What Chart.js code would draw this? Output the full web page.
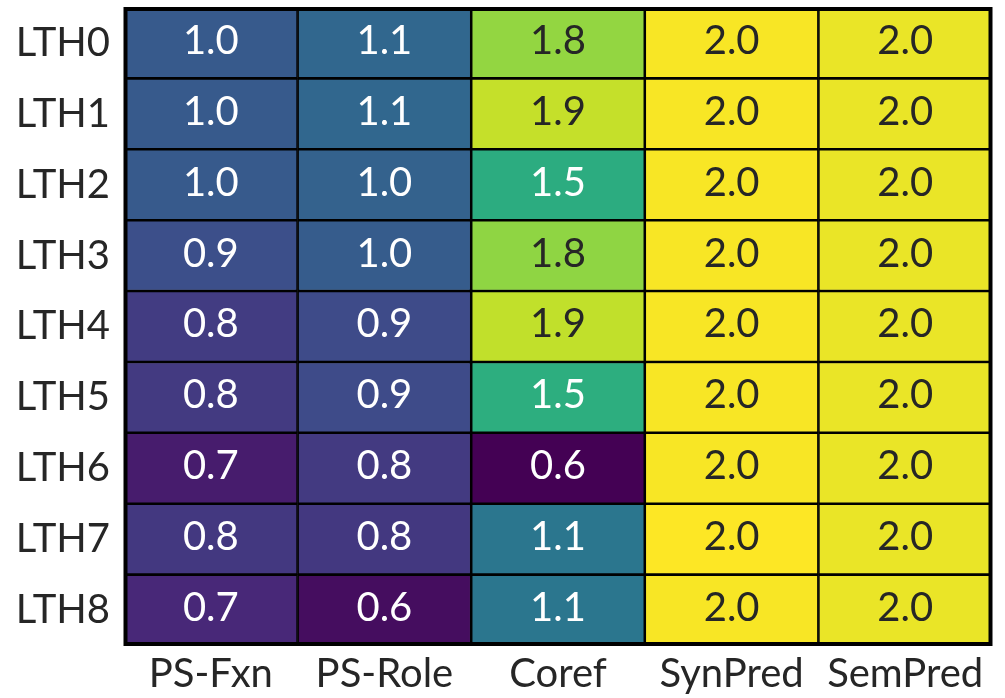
<!DOCTYPE html>
<html>
<head>
<meta charset="utf-8">
<script src="https://cdn.jsdelivr.net/npm/chart.js@4/dist/chart.umd.min.js"></script>
<style>
html,body{margin:0;padding:0;background:#fff;}
#wrap{width:1005px;height:698px;position:relative;}
</style>
</head>
<body>
<div id="wrap"><canvas id="c"></canvas></div>
<script>
const rowLabels = ['LTH0','LTH1','LTH2','LTH3','LTH4','LTH5','LTH6','LTH7','LTH8'];
const colLabels = ['PS-Fxn','PS-Role','Coref','SynPred','SemPred'];
const psFxn   = [0.98, 0.98, 0.98, 0.92, 0.83, 0.82, 0.69, 0.81, 0.74];
const psRole  = [1.05, 1.05, 1.02, 0.99, 0.90, 0.90, 0.82, 0.81, 0.63];
const coref   = [1.77, 1.88, 1.46, 1.76, 1.87, 1.47, 0.58, 1.14, 1.14];
const synPred = [1.99, 1.99, 1.99, 1.99, 1.99, 1.99, 1.99, 2.00, 1.99];
const semPred = [1.96, 1.96, 1.96, 1.96, 1.96, 1.96, 1.96, 1.96, 1.96];
const columns = [psFxn, psRole, coref, synPred, semPred];

const FONT = 'Lato, "Open Sans", "DejaVu Sans", sans-serif';
const TEXT_DARK = '#262626';

// viridis colormap stops (style, not data)
const VIR = ['#440154','#482878','#3E4A89','#31688E','#26828E','#1F9E89','#35B779','#6DCD59','#B4DE2C','#FDE725']
  .map(h => [parseInt(h.slice(1,3),16), parseInt(h.slice(3,5),16), parseInt(h.slice(5,7),16)]);
function viridis(t){
  t = Math.max(0, Math.min(1, t));
  const p = t * (VIR.length - 1);
  const i = Math.min(VIR.length - 2, Math.floor(p));
  const f = p - i;
  return VIR[i].map((c, k) => Math.round(c + (VIR[i+1][k] - c) * f));
}
function lum(rgb){
  const l = rgb.map(c => { c /= 255; return c <= 0.03928 ? c/12.92 : Math.pow((c+0.055)/1.055, 2.4); });
  return 0.2126*l[0] + 0.7152*l[1] + 0.0722*l[2];
}
const all = columns.flat();
const vmin = Math.min(...all), vmax = Math.max(...all);
const rgbOf = v => viridis((v - vmin) / (vmax - vmin));

const datasets = rowLabels.map((r, i) => ({
  label: r,
  data: colLabels.map(() => [i, i + 1]),
  values: columns.map(c => c[i]),
  backgroundColor: columns.map(c => 'rgb(' + rgbOf(c[i]).join(',') + ')'),
  borderColor: '#000',
  borderWidth: 1.6,
  borderSkipped: false,
  barPercentage: 1,
  categoryPercentage: 1
}));

const cellText = {
  id: 'cellText',
  afterDatasetsDraw(chart){
    const ctx = chart.ctx;
    ctx.save();
    ctx.font = '40px ' + FONT;
    ctx.textAlign = 'center';
    ctx.textBaseline = 'middle';
    chart.data.datasets.forEach((ds, di) => {
      const meta = chart.getDatasetMeta(di);
      meta.data.forEach((el, j) => {
        const p = el.getProps(['x','y','base'], true);
        const v = ds.values[j];
        ctx.fillStyle = lum(rgbOf(v)) < 0.408 ? '#ffffff' : TEXT_DARK;
        ctx.fillText(v.toFixed(1), p.x, (p.y + p.base) / 2 - 2);
      });
    });
    const a = chart.chartArea;
    ctx.strokeStyle = '#000';
    ctx.lineWidth = 4;
    ctx.strokeRect(a.left + 1.5, a.top + 1.5, a.right - a.left - 3, a.bottom - a.top - 3);
    ctx.restore();
  }
};

new Chart(document.getElementById('c'), {
  type: 'bar',
  data: { labels: colLabels, datasets },
  options: {
    responsive: true,
    maintainAspectRatio: false,
    animation: false,
    layout: { padding: { top: 7.5, right: 13, bottom: 0, left: 0 } },
    plugins: { legend: { display: false }, tooltip: { enabled: false }, title: { display: false } },
    scales: {
      x: {
        stacked: true,
        grid: { display: false, drawTicks: false },
        border: { display: false },
        ticks: { color: TEXT_DARK, font: { family: FONT, size: 40 }, padding: 5, maxRotation: 0 },
        afterFit(s){ s.height = 52.5; s.paddingLeft = 0; s.paddingRight = 0; }
      },
      y: {
        type: 'linear',
        min: 0, max: 9,
        reverse: true,
        grid: { display: false, drawTicks: false },
        border: { display: false },
        afterBuildTicks(s){ s.ticks = rowLabels.map((_, i) => ({ value: i + 0.5 })); },
        ticks: {
          color: TEXT_DARK,
          font: { family: FONT, size: 40 },
          padding: 14,
          callback: v => rowLabels[Math.floor(v)]
        },
        afterFit(s){ s.width = 124; s.paddingTop = 0; s.paddingBottom = 0; }
      }
    }
  },
  plugins: [cellText]
});
</script>
</body>
</html>
